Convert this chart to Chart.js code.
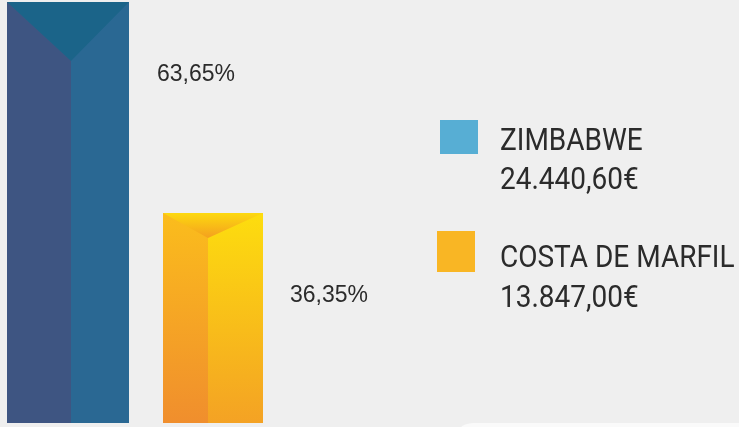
<!DOCTYPE html>
<html><head><meta charset="utf-8">
<script src="https://cdn.jsdelivr.net/npm/chart.js@4"></script>
<style>
html,body{margin:0;padding:0;background:#efefef;width:739px;height:427px;overflow:hidden;}
#wrap{position:relative;width:739px;height:427px;}
#corner{position:absolute;left:453px;top:423px;width:300px;height:20px;background:#fafafa;border-top-left-radius:22px;}
canvas{position:absolute;left:0;top:0;}
</style></head><body>
<div id="wrap"><div id="corner"></div><canvas id="c" width="739" height="427"></canvas></div>
<script>
// ---- data ----
const categories = ['ZIMBABWE', 'COSTA DE MARFIL'];
const shares = [63.65, 36.35];
const amounts = [24440.60, 13847.00];
const seriesColors = ['#57aed4', '#f9b624'];

// ---- styles ----
const faceStyles = [
  {thick:122, split:0.525, apex:59, left:['#3e5582','#3e5582'], right:['#2a6893','#2a6893'], top:['#1b6489','#1b6489'], labelDx:28, labelDy:79},
  {thick:100, split:0.45, apex:25, left:['#fbbd1c','#f08e2d'], right:['#fddd0e','#f4a224'], top:['#fdd90f','#f4a01f'], labelDx:27, labelDy:89}
];
const legendLayout = [
  {box:[440,120,38,34], lines:[150,189]},
  {box:[437,231,38,41], lines:[267,307]}
];

function fmtPct(v){ return v.toFixed(2).replace('.', ',') + '%'; }
function fmtEur(v){
  const parts = v.toFixed(2).split('.');
  const int = parts[0].replace(/\B(?=(\d{3})+(?!\d))/g, '.');
  return int + ',' + parts[1] + '€';
}

const facePlugin = {
  id:'faces',
  afterDatasetsDraw(chart){
    const ctx = chart.ctx, ca = chart.chartArea;
    chart.data.datasets.forEach((ds, i) => {
      const meta = chart.getDatasetMeta(i);
      const el = meta.data[0];
      const p = el.getProps(['x','y','base','width'], true);
      const st = faceStyles[i];
      const l = Math.round(p.x - p.width/2), r = Math.round(p.x + p.width/2), t = Math.round(p.y);
      const b = Math.min(p.base, ca.bottom);
      const sx = Math.round(l + p.width*st.split);
      const ay = t + st.apex;
      ctx.save();
      ctx.beginPath(); ctx.rect(ca.left, ca.top, ca.right-ca.left, ca.bottom-ca.top); ctx.clip();
      let g = ctx.createLinearGradient(0, t, 0, b);
      g.addColorStop(0, st.left[0]); g.addColorStop(1, st.left[1]);
      ctx.fillStyle = g; ctx.fillRect(l, t, sx-l+1, b-t);
      g = ctx.createLinearGradient(0, t, 0, b);
      g.addColorStop(0, st.right[0]); g.addColorStop(1, st.right[1]);
      ctx.fillStyle = g; ctx.fillRect(sx, t, r-sx, b-t);
      g = ctx.createLinearGradient(0, t, 0, ay);
      g.addColorStop(0, st.top[0]); g.addColorStop(1, st.top[1]);
      ctx.fillStyle = g;
      ctx.beginPath(); ctx.moveTo(l, t); ctx.lineTo(r, t); ctx.lineTo(sx, ay); ctx.closePath(); ctx.fill();
      ctx.restore();
      // value label
      ctx.save();
      ctx.fillStyle = '#2b2b2b';
      ctx.font = '23px "Liberation Sans", Arial, sans-serif';
      ctx.textBaseline = 'alphabetic';
      ctx.textAlign = 'left';
      ctx.fillText(fmtPct(shares[i]), r + st.labelDx, t + st.labelDy);
      ctx.restore();
    });
    // legend
    categories.forEach((name, i) => {
      const lg = legendLayout[i];
      ctx.save();
      ctx.fillStyle = seriesColors[i];
      ctx.fillRect(lg.box[0], lg.box[1], lg.box[2], lg.box[3]);
      ctx.fillStyle = '#2b2b2b';
      ctx.font = '32px Roboto, sans-serif';
      [name, fmtEur(amounts[i])].forEach((txt, k) => {
        ctx.save();
        ctx.translate(500, lg.lines[k]);
        ctx.scale(0.875, 1);
        ctx.fillText(txt, 0, 0);
        ctx.restore();
      });
      ctx.restore();
    });
  }
};

new Chart(document.getElementById('c'), {
  type:'bar',
  data:{
    datasets: categories.map((name, i) => ({
      label: name,
      data: [{x:i, y:shares[i]}],
      barThickness: faceStyles[i].thick,
      grouped: false,
      backgroundColor: 'rgba(0,0,0,0)',
      borderWidth: 0
    }))
  },
  options:{
    responsive:false,
    animation:false,
    events:[],
    layout:{padding:{top:2,bottom:4,left:0,right:0}},
    plugins:{legend:{display:false}, tooltip:{enabled:false}},
    scales:{
      x:{type:'linear', offset:false, bounds:'data', min:-68/145, max:671/145, display:false},
      y:{min:9.18, max:63.65, display:false}
    }
  },
  plugins:[facePlugin]
});
</script>
</body></html>
